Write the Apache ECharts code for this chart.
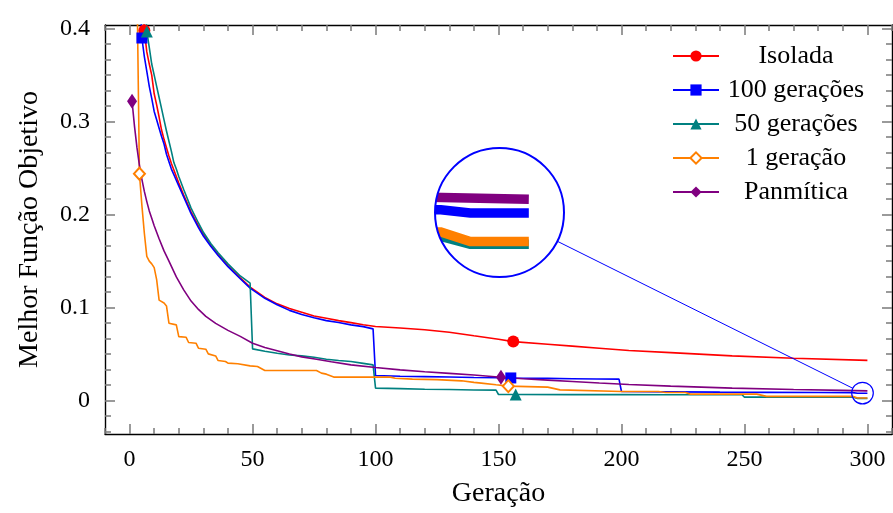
<!DOCTYPE html>
<html>
<head>
<meta charset="utf-8">
<script src="https://cdn.jsdelivr.net/npm/echarts@6/dist/echarts.min.js"></script>
<style>
  html, body { margin: 0; padding: 0; background: #fff; }
  #chart { width: 893px; height: 513px; }
</style>
</head>
<body>
<div id="chart"></div>
<script>
// Best objective value per generation for each migration scheme
const isoladaGen = [5, 6, 7, 8, 9, 10, 11, 12, 13, 14, 15, 16, 17, 18, 20, 22, 25, 28, 30, 33, 36, 40, 45, 49, 55, 60, 65, 70, 75, 80, 85, 90, 95, 100, 110, 120, 130, 140, 150, 156, 170, 180, 191, 203, 220, 245, 270, 300];
const isoladaVal = [0.45, 0.398, 0.375, 0.362, 0.35, 0.33, 0.318, 0.305, 0.291, 0.281, 0.272, 0.263, 0.255, 0.248, 0.234, 0.221, 0.203, 0.188, 0.179, 0.167, 0.157, 0.145, 0.132, 0.122, 0.111, 0.104, 0.099, 0.095, 0.091, 0.0885, 0.086, 0.0838, 0.0815, 0.0796, 0.078, 0.0762, 0.0735, 0.0697, 0.066, 0.0634, 0.0605, 0.0585, 0.0563, 0.0538, 0.0515, 0.048, 0.0455, 0.0432];

const ger100Gen = [4, 5, 6, 7, 8, 9, 10, 11, 12, 13, 14, 15, 16, 17, 18, 20, 22, 25, 28, 30, 33, 36, 40, 45, 49, 55, 60, 65, 70, 75, 80, 85, 90, 95, 99, 100, 110, 120, 130, 140, 150, 155, 170, 180, 190, 199, 200, 220, 240, 260, 280, 294, 296, 300];
const ger100Val = [0.45, 0.39, 0.37, 0.354, 0.338, 0.325, 0.311, 0.302, 0.293, 0.284, 0.276, 0.265, 0.257, 0.249, 0.243, 0.231, 0.219, 0.201, 0.186, 0.177, 0.166, 0.156, 0.144, 0.131, 0.121, 0.11, 0.103, 0.097, 0.0925, 0.089, 0.086, 0.084, 0.0814, 0.0795, 0.0771, 0.0269, 0.0262, 0.0257, 0.0253, 0.0248, 0.0245, 0.0243, 0.0238, 0.0235, 0.0232, 0.023, 0.0097, 0.0093, 0.009, 0.0088, 0.0086, 0.0085, 0.0079, 0.0079];

const ger50Gen = [6, 7, 8, 9, 10, 11, 12, 13, 14, 15, 16, 17, 18, 19, 20, 22, 25, 28, 30, 33, 36, 40, 45, 49, 50, 55, 60, 65, 70, 75, 80, 85, 90, 95, 99, 100, 110, 120, 130, 140, 149, 150, 157, 180, 200, 220, 249, 250, 270, 294, 296, 300];
const ger50Val = [0.45, 0.397, 0.38, 0.362, 0.35, 0.338, 0.326, 0.314, 0.302, 0.29, 0.279, 0.268, 0.256, 0.249, 0.241, 0.227, 0.207, 0.191, 0.181, 0.169, 0.159, 0.147, 0.134, 0.1262, 0.0556, 0.053, 0.0508, 0.049, 0.048, 0.0465, 0.0445, 0.043, 0.042, 0.04, 0.0384, 0.0133, 0.0128, 0.0122, 0.0118, 0.0114, 0.0112, 0.0065, 0.0065, 0.0064, 0.0064, 0.0063, 0.0062, 0.0037, 0.0037, 0.0037, 0.0023, 0.0023];

const ger1Gen = [3, 4, 5, 6, 7, 8, 9, 10, 11, 12, 14, 15, 16, 19, 20, 23, 24, 27, 28, 31, 32, 35, 36, 39, 40, 44, 49, 52, 55, 76, 78, 80, 83, 106, 108, 115, 125, 135, 140, 143, 149, 154, 170, 175, 200, 215, 218, 226, 228, 255, 259, 294, 296, 300];
const ger1Val = [0.45, 0.244, 0.21, 0.18, 0.155, 0.15, 0.147, 0.143, 0.13, 0.108, 0.105, 0.1018, 0.0832, 0.0814, 0.0688, 0.068, 0.0624, 0.0617, 0.0563, 0.0552, 0.0502, 0.048, 0.043, 0.042, 0.0402, 0.0395, 0.0373, 0.0366, 0.0323, 0.0323, 0.0295, 0.0284, 0.0252, 0.0252, 0.024, 0.023, 0.0225, 0.0212, 0.0195, 0.0187, 0.0169, 0.0155, 0.0144, 0.0115, 0.0097, 0.0097, 0.0086, 0.0086, 0.0069, 0.0069, 0.0045, 0.0045, 0.0028, 0.0028];

const panGen = [1, 2, 3, 4, 5, 6, 7, 8, 9, 10, 12, 14, 16, 19, 22, 25, 28, 31, 35, 40, 45, 50, 55, 60, 65, 70, 76, 82, 90, 100, 110, 120, 130, 140, 151, 160, 170, 180, 191, 203, 220, 245, 270, 290, 300];
const panVal = [0.322, 0.295, 0.272, 0.253, 0.238, 0.225, 0.214, 0.204, 0.196, 0.188, 0.174, 0.161, 0.15, 0.133, 0.119, 0.107, 0.098, 0.0905, 0.083, 0.0755, 0.069, 0.0617, 0.057, 0.0535, 0.05, 0.047, 0.0445, 0.0418, 0.0384, 0.0355, 0.033, 0.031, 0.0292, 0.0275, 0.025, 0.0235, 0.022, 0.0205, 0.0188, 0.0172, 0.0155, 0.0133, 0.0118, 0.0109, 0.0104];

// Generations where a marker is drawn on each curve
const isoladaMarks = [6, 156];
const ger100Marks = [5, 155];
const ger50Marks = [7, 157];
const ger1Marks = [4, 154];
const panMarks = [1, 151];

// Axis ticks and labels
const xLabels = [0, 50, 100, 150, 200, 250, 300];
const yLabels = [0, 0.1, 0.2, 0.3, 0.4];
const seriesNames = ['Isolada', '100 gerações', '50 gerações', '1 geração', 'Panmítica'];

// Magnified window near the end of the run
const zoomX = [293.6, 302.4];
const zoomY = [-0.0036, 0.0196];

const FONT = 'Liberation Serif';
const X_MIN = -10, X_MAX = 310, Y_MIN = -0.036, Y_MAX = 0.404;
const GRID = { left: 105, top: 25, right: 1, bottom: 79 };
const INSET = { left: 435, top: 148, width: 129, height: 129 };

const defs = [
  { name: seriesNames[0], gen: isoladaGen, val: isoladaVal, marks: isoladaMarks, color: '#ff0000', symbol: 'circle', size: 12 },
  { name: seriesNames[1], gen: ger100Gen, val: ger100Val, marks: ger100Marks, color: '#0000ff', symbol: 'rect', size: 11 },
  { name: seriesNames[2], gen: ger50Gen, val: ger50Val, marks: ger50Marks, color: '#008080', symbol: 'triangle', size: 12 },
  { name: seriesNames[3], gen: ger1Gen, val: ger1Val, marks: ger1Marks, color: '#ff8000', symbol: 'emptyDiamond', size: [11, 12] },
  { name: seriesNames[4], gen: panGen, val: panVal, marks: panMarks, color: '#800080', symbol: 'diamond', size: [10, 15] }
];

const minorY = [];
for (let k = -2; k <= 24; k++) minorY.push(k / 60);
const minorX = [];
for (let v = -10; v <= 310; v += 10) minorX.push(v);

const tickStyle = { color: '#7a7a7a', width: 1.5 };
const frameLine = { show: true, onZero: false, lineStyle: { color: '#000', width: 1.4 } };
const noLine = { show: false, onZero: false };

function xAxisDef(position, ticks, len, withLabels, withLine) {
  return {
    type: 'value', gridIndex: 0, position, min: X_MIN, max: X_MAX,
    axisLine: withLine ? frameLine : noLine,
    axisTick: { show: true, inside: true, length: len, customValues: ticks, lineStyle: tickStyle },
    axisLabel: withLabels
      ? { show: true, customValues: xLabels, fontFamily: FONT, fontSize: 24, color: '#000', margin: 14 }
      : { show: false },
    splitLine: { show: false }
  };
}
function yAxisDef(position, ticks, len, withLabels, withLine) {
  return {
    type: 'value', gridIndex: 0, position, min: Y_MIN, max: Y_MAX,
    axisLine: withLine ? frameLine : noLine,
    axisTick: { show: true, inside: true, length: len, customValues: ticks, lineStyle: tickStyle },
    axisLabel: withLabels
      ? { show: true, customValues: yLabels, fontFamily: FONT, fontSize: 24, color: '#000', margin: 15 }
      : { show: false },
    splitLine: { show: false }
  };
}

const xAxes = [
  Object.assign(xAxisDef('bottom', minorX, 6, true, true), {
    name: 'Geração', nameLocation: 'middle', nameGap: 46,
    nameTextStyle: { fontFamily: FONT, fontSize: 28, color: '#000' }
  }),
  xAxisDef('bottom', xLabels, 10, false, false),
  xAxisDef('top', minorX, 6, false, true),
  xAxisDef('top', xLabels, 10, false, false),
  { type: 'value', gridIndex: 1, min: zoomX[0], max: zoomX[1], show: false }
];
const yAxes = [
  Object.assign(yAxisDef('left', yLabels, 10, true, true), {
    name: 'Melhor Função Objetivo', nameLocation: 'middle', nameGap: 61, nameRotate: 90,
    nameTextStyle: { fontFamily: FONT, fontSize: 28, color: '#000' }
  }),
  yAxisDef('left', minorY, 6, false, false),
  yAxisDef('right', yLabels, 10, false, true),
  yAxisDef('right', minorY, 6, false, false),
  { type: 'value', gridIndex: 1, min: zoomY[0], max: zoomY[1], show: false }
];

const series = [];
defs.forEach(d => {
  const data = d.gen.map((g, i) => {
    const item = { value: [g, d.val[i]] };
    if (d.marks.indexOf(g) < 0) item.symbol = 'none';
    return item;
  });
  series.push({
    type: 'line', name: d.name, xAxisIndex: 0, yAxisIndex: 0,
    data, symbol: d.symbol, symbolSize: d.size, showSymbol: true, showAllSymbol: true,
    color: d.color, itemStyle: { color: d.color },
    lineStyle: { color: d.color, width: 1.6 },
    emphasis: { disabled: true }, animation: false, clip: true
  });
});
// Magnified copies of the same curves for the inset
defs.forEach(d => {
  series.push({
    type: 'line', name: d.name + ' ', xAxisIndex: 4, yAxisIndex: 4,
    data: d.gen.map((g, i) => [g, d.val[i]]), symbol: 'none',
    lineStyle: { color: d.color, width: 9.5, cap: 'butt', join: 'miter' },
    emphasis: { disabled: true }, animation: false, clip: true
  });
});

const chart = echarts.init(document.getElementById('chart'), null, { renderer: 'canvas' });
chart.setOption({
  animation: false,
  backgroundColor: '#fff',
  grid: [
    Object.assign({ containLabel: false }, GRID),
    Object.assign({ containLabel: false }, INSET)
  ],
  xAxis: xAxes,
  yAxis: yAxes,
  legend: {
    data: seriesNames,
    orient: 'vertical', left: 672, top: 43, padding: 0,
    itemWidth: 46, itemHeight: 14, itemGap: 8,
    formatter: name => '{t|' + name + '}',
    textStyle: {
      color: '#000',
      rich: { t: { fontFamily: FONT, fontSize: 26, lineHeight: 24, color: '#000', width: 144, align: 'center' } }
    },
    selectedMode: false
  },
  series
});

// Zoom circles and connector, placed from the data window
const c = chart.convertToPixel({ seriesIndex: 0 }, [(zoomX[0] + zoomX[1]) / 2, (zoomY[0] + zoomY[1]) / 2]);
const edge = chart.convertToPixel({ seriesIndex: 0 }, [zoomX[1], (zoomY[0] + zoomY[1]) / 2]);
const rSmall = edge[0] - c[0];
const bc = [INSET.left + INSET.width / 2, INSET.top + INSET.height / 2];
const rBig = INSET.width / 2;
const dx = c[0] - bc[0], dy = c[1] - bc[1];
const dl = Math.sqrt(dx * dx + dy * dy);
const ux = dx / dl, uy = dy / dl;
chart.setOption({
  graphic: [
    { type: 'ring', z: 100, silent: true, shape: { cx: bc[0], cy: bc[1], r0: rBig, r: rBig * 1.5 }, style: { fill: '#fff' } },
    { type: 'circle', z: 101, silent: true, shape: { cx: bc[0], cy: bc[1], r: rBig }, style: { fill: null, stroke: '#0000ff', lineWidth: 2 } },
    { type: 'circle', z: 101, silent: true, shape: { cx: c[0], cy: c[1], r: rSmall }, style: { fill: null, stroke: '#0000ff', lineWidth: 1.2 } },
    { type: 'line', z: 101, silent: true,
      shape: { x1: bc[0] + ux * rBig, y1: bc[1] + uy * rBig, x2: c[0] - ux * rSmall, y2: c[1] - uy * rSmall },
      style: { stroke: '#0000ff', lineWidth: 1 } }
  ]
});
</script>
</body>
</html>
